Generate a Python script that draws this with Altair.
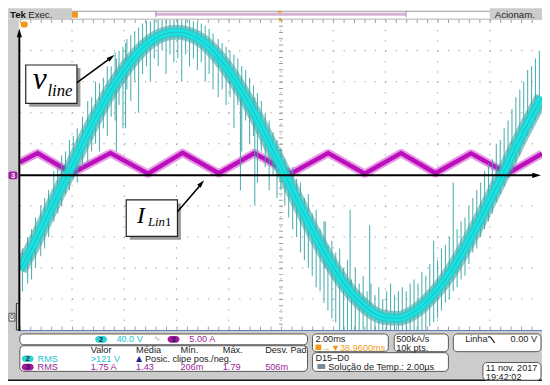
import altair as alt
import pandas as pd

# ---------------- data ----------------
# time axis: 2 ms/div, 10 divisions; CH2 40 V/div, CH3 5 A/div
t_v = [0.0, 0.5, 1.0, 1.5, 2.0, 2.5, 3.0, 3.5, 4.0, 4.5, 5.0, 5.5, 6.0, 6.5, 7.0,
       7.5, 8.0, 8.5, 9.0, 9.5, 10.0, 10.5, 11.0, 11.5, 12.0, 12.5, 13.0, 13.5,
       14.0, 14.5, 15.0, 15.5, 16.0, 16.5, 17.0, 17.5, 18.0, 18.5, 19.0, 19.5, 20.0]
v_line = [-122, -92, -57, -22, 12, 47, 80, 110, 135, 156, 172, 181, 184, 181, 172,
          156, 134, 108, 78, 45, 11, -24, -58, -90, -119, -144, -163, -177,
          -184, -185, -179, -166, -148, -125, -97, -66, -33, 1, 36, 69, 100]

t_i = [0.0, 0.68, 2.0, 3.47, 4.91, 6.23, 7.62, 8.98, 10.38, 11.81, 13.21, 14.6,
       15.92, 17.28, 18.68, 20.0]
i_lin = [2.0, 3.5, 0.25, 3.5, 0.2, 3.55, 0.25, 3.5, 0.2, 3.5, 0.2, 3.5, 0.25,
         3.45, 0.2, 3.4]

spike_t = [0.1, 0.3, 0.45, 0.6, 0.8, 0.95, 1.1, 1.3, 1.45, 1.6, 1.75, 1.9, 2.05,
           2.2, 2.4, 2.6, 2.75, 2.9, 3.05, 3.2, 3.35, 3.5, 3.65, 3.7, 3.8, 3.95, 4.05, 4.1, 4.25, 4.4, 4.55, 4.7, 4.85,
           5.0, 5.15, 5.3, 5.45, 5.6, 5.75, 5.9, 6.05, 6.2, 6.35, 6.5, 6.65, 6.8, 6.95, 7.1, 7.25, 7.4,
           7.6, 7.75, 7.9, 8.05, 8.2, 8.35, 8.45, 8.5, 8.65, 8.8, 8.95, 9.0, 9.1, 9.25, 9.4, 9.55, 9.7, 9.85, 10.0,
           10.15, 10.3, 10.45, 10.6, 10.75, 10.9, 11.05, 11.2, 11.35, 11.5, 11.65, 11.7, 11.8, 11.95, 12.1, 12.25,
           12.4, 12.55, 12.65, 12.7, 12.85, 13.0, 13.15, 13.3, 13.4, 13.45, 13.6, 13.75, 13.9,
           14.05, 14.2, 14.35, 14.5, 14.65, 14.8, 14.95, 15.1, 15.25, 15.4, 15.55, 15.7, 15.85, 16.0, 16.15, 16.3, 16.45, 16.6,
           16.75, 16.9, 17.05, 17.2, 17.35, 17.5, 17.65, 17.8, 17.95, 18.1, 18.25, 18.4, 18.55, 18.7, 18.85, 19.0,
           19.15, 19.3, 19.45, 19.6, 19.75, 19.9]
spike_lo = [-150, -140, -135, -120, -105, -95, -80, -60, -50, -40, -25, -20, -5,
            -10, 10, 15, 30, 40, 30, 60, 50, 75, 70, 30, 90, 60, 60, 110, 95, 120, 80, 130, 140,
            120, 150, 140, 160, 130, 155, 145, 150, 120, 155, 140, 150, 135, 145, 120, 130, 110,
            100, 110, 90, 100, 60, 90, -20, 30, 70, 40, 50, -40, -10, 30, 10, -20, 0, -30, -20,
            -40, -55, -70, -80, -100, -110, -120, -130, -145, -150, -165, -120, -175, -185, -190, -200,
            -200, -200, -150, -200, -200, -200, -200, -200, -175, -200, -200, -200, -200,
            -200, -200, -200, -200, -200, -200, -200, -200, -200, -200, -200, -195, -190, -185, -175, -165, -160, -150,
            -145, -135, -130, -115, -100, -95, -80, -70, -60, -50, -35, -25, -15, 0, 5, 15,
            25, 40, 50, 60, 70, 80]
spike_hi = [-95, -80, -70, -55, -40, -30, -20, 5, 10, 25, 30, 45, 50,
            60, 75, 95, 100, 120, 118, 125, 140, 140, 158, 150, 160, 165, 170, 175, 180, 185, 190, 195, 198,
            198, 200, 200, 200, 200, 200, 200, 200, 200, 200, 200, 198, 196, 195, 192, 188, 182,
            175, 170, 165, 160, 155, 150, 120, 140, 135, 125, 115, 100, 105, 95, 80, 70, 55, 45, 35,
            20, 5, 10, -5, -10, -30, -25, -50, -45, -70, -60, -60, -90, -85, -100, -95,
            -120, -110, -45, -135, -120, -140, -130, -150, -65, -140, -155, -145, -160,
            -150, -140, -155, -150, -145, -150, -140, -135, -140, -125, -130, -115, -85, -110, -95, -90, -80, -10,
            -70, -60, -55, -40, -30, -20, -10, 5, 15, 20, 40, 45, 60, 70, 85, 100,
            110, 120, 135, 140, 150, 160]

grid_t = [2, 4, 6, 8, 10, 12, 14, 16, 18]          # ms (vertical grid lines)
grid_d = [-4, -3, -2, -1, 1, 2, 3, 4]              # divisions (horizontal grid lines)

hdr_cols = ["Valor", "Média", "Mín.", "Máx.", "Desv. Pad"]
row3_vals = ["1.75 A", "1.43", "206m", "1.79", "506m"]

# ---------------- layout helpers (reference pixel -> plot-area pixel) ----------------
PL, PT, W, H = 12, 9, 530, 315


def X(r):
    return round(r - 8 - PL, 2)


def Y(r):
    return round(r - 8 - PT, 2)


one = pd.DataFrame({"k": [0]})
CYAN_T = "#25c3cf"
PURP_T = "#9b1f9b"
ORANGE = "#f09a1c"
FONT = "Liberation Sans"
SERIF = "Liberation Serif"
FS = 9.3


def rect(x1, y1, x2, y2, fill, stroke="", sw=1.0, r=0):
    kw = dict(fill=fill, cornerRadius=r)
    if stroke:
        kw.update(stroke=stroke, strokeWidth=sw)
    else:
        kw.update(strokeWidth=0)
    return alt.Chart(one).mark_rect(**kw).encode(
        x=alt.value(X(x1)), x2=alt.value(X(x2)), y=alt.value(Y(y1)), y2=alt.value(Y(y2)))


def seg(x1, y1, x2, y2, color, w=1.0, dash=None):
    kw = dict(color=color, strokeWidth=w)
    if dash:
        kw["strokeDash"] = dash
    return alt.Chart(one).mark_rule(**kw).encode(
        x=alt.value(X(x1)), y=alt.value(Y(y1)), x2=alt.value(X(x2)), y2=alt.value(Y(y2)))


def txt(x, y, s, size=FS, color="#222", font=FONT, italic=False, bold=False,
        align="left", baseline="middle"):
    kw = dict(text=s, fontSize=size, color=color, font=font, align=align, baseline=baseline)
    if italic:
        kw["fontStyle"] = "italic"
    if bold:
        kw["fontWeight"] = "bold"
    return alt.Chart(one).mark_text(**kw).encode(x=alt.value(X(x)), y=alt.value(Y(y)))


ARROW = "M0,0L0.5,1.7L-0.5,1.7Z"


def head(x, y, angle, size, color="#000"):
    return alt.Chart(one).mark_point(shape=ARROW, filled=True, size=size, angle=angle,
                                     color=color, opacity=1, strokeWidth=0).encode(
        x=alt.value(X(x)), y=alt.value(Y(y)))


def pill(x1, y1, x2, y2, fill, label):
    return [rect(x1, y1, x2, y2, fill, r=3.5),
            txt((x1 + x2) / 2, (y1 + y2) / 2 + 0.3, label, 7.5, "#1b1b3a", bold=True, align="center")]


xs = alt.Scale(domain=[0, 20], nice=False, zero=False)
ys = alt.Scale(domain=[-5, 5], nice=False, zero=False)

layers = []

# ---- frame / panels ----
layers += [
    rect(8, 5.5, 73, 16, "#cccccc"),
    rect(497, 5.5, 550, 16, "#cccccc"),
    rect(8, 16, 19, 333, "#cccccc"),
    rect(8, 333, 550, 383, "#cccccc"),
    seg(7, 383, 550, 383, "#111", 1.3),
    seg(73, 8.5, 497, 8.5, "#9a9a9a", 1),
    rect(158, 10, 412, 13, "#d7b2d7"),
    seg(158, 8, 158, 14.5, "#999", 1),
    seg(412, 8, 412, 14.5, "#999", 1),
    rect(73, 9, 79, 15, ORANGE, r=1),
    rect(282, 8, 286, 10, ORANGE),
    txt(10, 12.3, "Tek", 9.8, "#111", bold=True),
    txt(28.5, 12.3, "Exec.", 9.8, "#222"),
    txt(502, 12.3, "Acionam.", 9.8, "#222"),
]

# ---- grid ----
gx = pd.DataFrame({"t": grid_t})
gy = pd.DataFrame({"d": grid_d})
layers += [
    alt.Chart(gx).mark_rule(color="#9c9c9c", strokeWidth=1, strokeDash=[1.3, 9.2]).encode(
        x=alt.X("t:Q", scale=xs, axis=None), y=alt.value(0), y2=alt.value(H)),
    alt.Chart(gy).mark_rule(color="#9c9c9c", strokeWidth=1, strokeDash=[1.3, 9.3]).encode(
        y=alt.Y("d:Q", scale=ys, axis=None), x=alt.value(0), x2=alt.value(W)),
    alt.Chart(pd.DataFrame({"t": [10]})).mark_rule(color="#9c9c9c", strokeWidth=4, strokeDash=[1, 5.3]).encode(
        x=alt.X("t:Q", scale=xs, axis=None), y=alt.value(0), y2=alt.value(H)),
    seg(20, 330.5, 550, 330.5, "#a0a0a0", 4, [1, 9.6]),
    seg(20, 18.5, 550, 18.5, "#a0a0a0", 4, [1, 9.6]),
    seg(20, 16.5, 550, 16.5, "#b0b0b0", 1),
    seg(20, 332.5, 550, 332.5, "#5d7fc0", 1.2),
]

# ---- current (CH3) ----
idf = pd.DataFrame({"t": t_i, "i": i_lin})
ibase = alt.Chart(idf).transform_calculate(d="datum.i / 5").encode(
    x=alt.X("t:Q", scale=xs, axis=None), y=alt.Y("d:Q", scale=ys, axis=None))
layers += [
    ibase.mark_line(color="#d24ad2", strokeWidth=8.5, opacity=0.55, clip=True, strokeJoin="round"),
    ibase.mark_line(color="#bb0fbb", strokeWidth=4.5, clip=True, strokeJoin="round"),
]

# ---- voltage (CH2) ----
vdf = pd.DataFrame({"t": t_v, "v": v_line})
vbase = alt.Chart(vdf).transform_calculate(d="datum.v / 40").encode(
    x=alt.X("t:Q", scale=xs, axis=None), y=alt.Y("d:Q", scale=ys, axis=None))
sdf = pd.DataFrame({"t": spike_t, "lo": spike_lo, "hi": spike_hi})
spikes = alt.Chart(sdf).transform_calculate(d1="datum.lo / 40", d2="datum.hi / 40").mark_rule(
    color="#3fa8a8", strokeWidth=1.1, opacity=0.9, clip=True).encode(
    x=alt.X("t:Q", scale=xs, axis=None), y=alt.Y("d1:Q", scale=ys, axis=None), y2="d2:Q")
layers += [
    vbase.mark_line(color="#2f9a9a", strokeWidth=15, opacity=0.55, interpolate="monotone", clip=True),
    spikes,
    vbase.mark_line(color="#2ccaca", strokeWidth=10, opacity=0.85, interpolate="monotone", clip=True),
    vbase.mark_line(color="#12e6e6", strokeWidth=5.5, interpolate="monotone", clip=True),
    vbase.mark_line(color="#2bb5b5", strokeWidth=1.2, opacity=0.7, interpolate="monotone", clip=True),
]

# ---- hand-drawn axes ----
layers += [
    seg(19.5, 333, 19.5, 34, "#000", 2),
    head(19.5, 26, 0, 110),
    seg(20, 175, 541, 175, "#000", 2),
    head(549, 175, 90, 110),
    rect(8.5, 171, 17.5, 179, "#a31aa3", r=2),
    txt(13, 175.3, "3", 7.5, "#fff", bold=True, align="center"),
    rect(21, 19, 28, 25, ORANGE, r=2),
    head(284, 20, 180, 30, ORANGE),
    seg(16.5, 305, 16.5, 332, "#333", 1),
    seg(16.5, 305, 19, 305, "#333", 1),
    seg(16.5, 332, 19, 332, "#333", 1),
    rect(9, 315, 15, 323, "#eeeeee", "#333", 0.8),
    txt(12, 319.3, "0", 6.5, "#111", align="center"),
]

# ---- annotations ----
layers += [
    rect(29.5, 66, 81.5, 105.5, "#9a9a9a"),
    rect(26, 63, 78, 102, "#ffffff", "#222", 1.2),
    txt(33, 87, "v", 32, "#000", SERIF, italic=True, baseline="alphabetic"),
    txt(48, 94, "line", 17, "#000", SERIF, italic=True, baseline="alphabetic"),
    seg(78, 81, 112, 56, "#000", 1.6),
    head(116, 53, 53, 90),
    rect(131.5, 203.5, 183.5, 240.5, "#9a9a9a"),
    rect(128, 200, 180, 237, "#ffffff", "#222", 1.2),
    txt(139, 223, "I", 24, "#000", SERIF, italic=True, baseline="alphabetic"),
    txt(150, 226.5, "Lin", 13, "#000", SERIF, italic=True, baseline="alphabetic"),
    txt(167.3, 226.5, "1", 13, "#000", SERIF, baseline="alphabetic"),
    seg(180, 212, 204, 184, "#000", 1.6),
    head(207, 180, 40, 90),
]

# ---- bottom info panel ----
layers += [
    rect(20, 336, 312, 347, "#ffffff", "#555", 1, 4),
    rect(20, 348, 312, 374, "#ffffff", "#555", 1, 4),
    rect(317, 336, 394, 354, "#ffffff", "#555", 1, 4),
    rect(400, 336, 455, 354, "#ffffff", "#555", 1, 4),
    rect(460, 336, 549, 354, "#ffffff", "#555", 1, 4),
    rect(317, 355, 455, 374, "#ffffff", "#555", 1, 4),
    rect(490, 365, 549, 383, "#ffffff", "#555", 1, 4),
]
layers += pill(96.5, 338, 108.5, 345, "#2cd3d3", "2")
layers += [txt(118, 341.6, "40.0 V", FS, CYAN_T),
           txt(156, 341.6, "∿", 8, "#99aaaa", "DejaVu Sans")]
layers += pill(170, 338, 182, 345, "#a315a3", "3")
layers += [txt(192, 341.6, "5.00 A", FS, PURP_T)]

col_x = [92, 138, 183, 226, 269]
for cx, lab in zip(col_x, hdr_cols):
    layers.append(txt(cx, 352.3, lab, FS, "#222"))
layers += pill(22, 357.8, 34, 364.6, "#2cd3d3", "2")
layers += [txt(38, 361.2, "RMS", FS, CYAN_T),
           txt(92, 361.2, ">121 V", FS, CYAN_T),
           txt(138, 361.2, "▲", 8, "#1c2a8c", "DejaVu Sans"),
           txt(147, 361.2, "Posic. clipe pos./neg.", FS, "#222")]
layers += pill(22, 366.3, 34, 373.1, "#a315a3", "3")
layers += [txt(38, 370, "RMS", FS, PURP_T)]
for cx, lab in zip(col_x, row3_vals):
    layers.append(txt(cx, 370, lab, FS, PURP_T))

layers += [
    txt(320, 341.5, "2.00ms", FS, "#222"),
    rect(320, 346.8, 326, 352.6, ORANGE, r=1),
    txt(326.5, 350.2, "→▼38.9600ms", FS, ORANGE),
    txt(402, 341.5, "500kA/s", FS, "#222"),
    txt(402, 350.2, "10k pts.", FS, "#222"),
    txt(472, 341.5, "Linha", FS, "#222"),
    seg(495, 339, 497.5, 339, "#222", 1.2),
    seg(497.5, 339, 502, 345, "#222", 1.2),
    txt(545, 341.5, "0.00 V", FS, "#222", align="right"),
    txt(320, 360.3, "D15–D0", FS, "#222"),
    rect(322, 366.5, 330, 371.5, "#7a8a9a", r=1),
    txt(333, 369.3, "Solução de Temp.: 2.00µs", FS, "#222"),
    txt(493, 370.8, "11 nov. 2017", FS, "#222"),
    txt(493, 379.5, "19:42:02", FS, "#222"),
]

chart = alt.layer(*layers).properties(
    width=W, height=H,
    padding={"left": PL, "top": PT, "right": 0, "bottom": 377 - PT - H},
    autosize=alt.AutoSizeParams(type="none"),
    background="#ffffff",
).configure_view(strokeWidth=0)

chart.save("out.html", embed_options={"renderer": "svg", "actions": False})
